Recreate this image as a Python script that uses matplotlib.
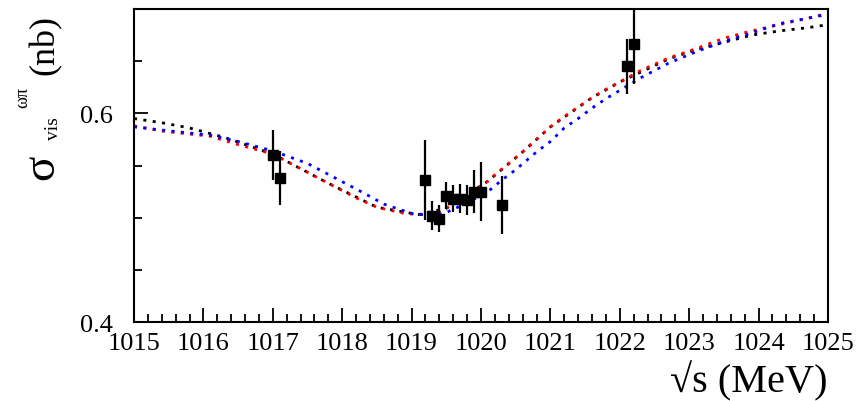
import matplotlib
matplotlib.use("Agg")
import matplotlib.pyplot as plt
from matplotlib.ticker import MultipleLocator, FixedFormatter, FixedLocator

plt.rcParams["font.family"] = ["Liberation Serif", "DejaVu Serif"]
plt.rcParams["mathtext.fontset"] = "stix"

# measured points
energy = [1017.0, 1017.1, 1019.2, 1019.3, 1019.4, 1019.5, 1019.6,
          1019.7, 1019.8, 1019.9, 1020.0, 1020.3, 1022.1, 1022.2]
sigma = [0.560, 0.538, 0.536, 0.502, 0.499, 0.521, 0.518,
         0.518, 0.517, 0.525, 0.525, 0.512, 0.645, 0.666]
sigma_err = [0.024, 0.026, 0.038, 0.014, 0.013, 0.013, 0.013,
             0.014, 0.014, 0.021, 0.028, 0.028, 0.026, 0.038]

# fit curves
black_e = [1015.0, 1015.4, 1015.8, 1016.3, 1017.0, 1017.8, 1018.5, 1019.1,
           1019.5, 1020.1, 1020.6, 1021.0, 1021.6, 1022.0, 1022.7, 1023.1,
           1023.5, 1023.9, 1024.3, 1024.7, 1025.0]
black_s = [0.595, 0.591, 0.586, 0.577, 0.561, 0.533, 0.510, 0.503,
           0.509, 0.535, 0.563, 0.587, 0.615, 0.630, 0.652, 0.661,
           0.668, 0.675, 0.679, 0.682, 0.685]

red_e = [1015.0, 1015.4, 1016.1, 1016.5, 1017.0, 1017.4, 1017.8, 1018.2,
         1018.5, 1018.9, 1019.1, 1019.3, 1019.5, 1019.8, 1020.1, 1020.2,
         1020.4, 1020.6, 1020.8, 1021.0, 1021.2, 1021.4, 1021.6, 1021.8,
         1022.0, 1022.3, 1022.7, 1023.1, 1023.5, 1023.9, 1024.3, 1024.7,
         1025.0]
red_s = [0.588, 0.583, 0.578, 0.570, 0.561, 0.547, 0.533, 0.519,
         0.510, 0.504, 0.503, 0.503, 0.509, 0.522, 0.535, 0.541,
         0.552, 0.563, 0.575, 0.587, 0.597, 0.606, 0.615, 0.623,
         0.630, 0.641, 0.653, 0.662, 0.672, 0.679, 0.685, 0.691,
         0.696]

blue_e = [1015.0, 1015.4, 1016.1, 1016.5, 1017.0, 1017.5, 1017.9, 1018.3,
          1018.6, 1019.0, 1019.3, 1019.5, 1019.8, 1020.1, 1020.3, 1020.5,
          1020.8, 1021.0, 1021.2, 1021.4, 1021.6, 1021.8, 1022.0, 1022.3,
          1022.7, 1023.1, 1023.5, 1023.9, 1024.3, 1024.7, 1025.0]
blue_s = [0.587, 0.584, 0.579, 0.573, 0.564, 0.552, 0.538, 0.524,
          0.513, 0.504, 0.502, 0.505, 0.514, 0.525, 0.536, 0.546,
          0.563, 0.573, 0.586, 0.595, 0.605, 0.614, 0.622, 0.634,
          0.648, 0.659, 0.669, 0.677, 0.686, 0.691, 0.695]

fig = plt.figure(figsize=(8.61, 4.02), dpi=100)
ax = fig.add_axes([134 / 861, 1 - 323 / 402, (828 - 134) / 861, (323 - 10) / 402])

dots = (0, (1.1, 2.3))
ax.plot(black_e, black_s, color="black", lw=2.0, linestyle=dots)
ax.plot(red_e, red_s, color="red", lw=2.0, linestyle=dots)
ax.plot(blue_e, blue_s, color="blue", lw=2.0, linestyle=dots)

ax.errorbar(energy, sigma, yerr=sigma_err, fmt="s", color="black",
            ms=6.5, elinewidth=1.6, capsize=0, zorder=5)

ax.set_xlim(1015, 1025)
ax.set_ylim(0.4, 0.7)

ax.xaxis.set_major_locator(MultipleLocator(1))
ax.xaxis.set_minor_locator(MultipleLocator(0.2))
ax.yaxis.set_major_locator(FixedLocator([0.4, 0.6]))
ax.yaxis.set_major_formatter(FixedFormatter(["0.4", "0.6"]))
ax.yaxis.set_minor_locator(MultipleLocator(0.05))

ax.tick_params(which="both", direction="in", top=False, right=False,
               labelsize=19, width=1.3)
ax.tick_params(axis="x", which="major", length=10, pad=7)
ax.tick_params(axis="x", which="minor", length=6)
ax.tick_params(axis="y", which="major", length=10, pad=15)
ax.tick_params(axis="y", which="minor", length=6)
for sp in ax.spines.values():
    sp.set_linewidth(1.5)

# x label
fig.text(828 / 861, 1 / 402, "\u221as (MeV)", fontsize=29,
         ha="right", va="bottom")

# y label, built from pieces like the ROOT original
H = 402
fig.text(42 / 861, 1 - 167 / H, "\u03c3", fontsize=34, rotation=90,
         ha="center", va="center")
fig.text(53 / 861, 1 - 129 / H, "vis", fontsize=14, rotation=90,
         ha="center", va="center")
fig.text(23 / 861, 1 - 98 / H, "\u03c9\u03c0", fontsize=13, rotation=90,
         ha="center", va="center")
fig.text(45 / 861, 1 - 45 / H, "(nb)", fontsize=26, rotation=90,
         ha="center", va="center")

fig.savefig("out.png", dpi=100)
